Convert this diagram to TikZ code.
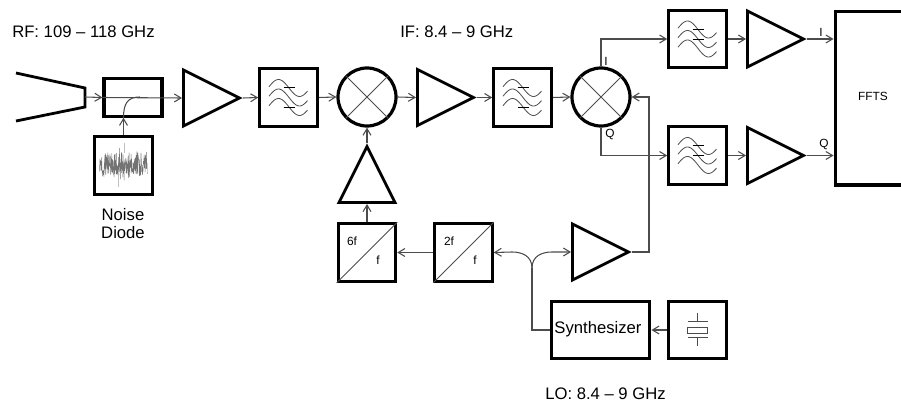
\documentclass[tikz,border=0pt]{standalone}
\usepackage{fontspec}
\setmainfont{Liberation Sans}
\usetikzlibrary{arrows.meta,shapes.geometric}
\newcommand{\linecol}{black!70}
\tikzset{
  blockbox/.style={draw=black, line width=2.4pt, rectangle, inner sep=0pt, minimum width=43pt, minimum height=43pt},
  amp/.style={draw=black, line width=2.1pt, isosceles triangle, isosceles triangle stretches, inner sep=0pt, minimum width=42pt, minimum height=42pt, anchor=lower side},
  mixer/.style={draw=black, line width=2.4pt, circle, inner sep=0pt, minimum size=43.5pt},
  lbl/.style={inner sep=0pt, font=\fontsize{12.5}{13}\selectfont},
  smalllbl/.style={inner sep=0pt, font=\fontsize{8.9}{10}\selectfont},
  conn/.style={draw=\linecol, line width=0.8pt, -{Straight Barb[length=5pt,width=6pt]}},
  wire/.style={draw=\linecol, line width=0.8pt},
  thin line/.style={draw=\linecol, line width=0.6pt}
}
% the three waves and two bars of a band pass filter
\newcommand{\filtericon}[2]{
  \begin{scope}[shift={(#1)}]
    \foreach \yoff in {-9.5, 0, 9.5}
      \draw[thin line, domain=-19.5:19, samples=30, smooth] plot (\x, {\yoff + 8.5*sin((\x-0.5)*360/42)});
    \draw[thin line, draw=black] (-5, -10) -- (6, -10);
    \draw[thin line, draw=black] (-5, #2) -- (6, #2);
  \end{scope}
}
\newcommand{\mixercross}[1]{
  \draw[thin line] (#1.45) -- (#1.225);
  \draw[thin line] (#1.135) -- (#1.315);
}
\begin{document}
\begin{tikzpicture}[x=0.75pt, y=-0.75pt]
  \useasboundingbox (0, 0) rectangle (901, 403);

  \node[lbl, anchor=west] (rf) at (12, 32) {RF: 109 -- 118 GHz};
  \node[lbl, anchor=west] (if) at (400, 32) {IF: 8.4 -- 9 GHz};
  \node[lbl, anchor=west] (lo) at (545, 394) {LO: 8.4 -- 9 GHz};

  % top row
  \coordinate (hornout) at (85, 97);
  \draw[draw=black, line width=2.1pt, miter limit=2] (16, 73) -- (85, 88) -- (85, 107) -- (16, 121);
  \node[draw=black, line width=2.4pt, rectangle, inner sep=0pt, minimum width=43.5pt, minimum height=28pt] (coupler) at (133, 97.5) {};
  \node[amp] (amp1) at (182, 98) {};
  \node[blockbox] (filt1) at (288.5, 97.5) {};
  \node[mixer] (mix1) at (367, 97) {};
  \node[amp] (amp2) at (416, 97.5) {};
  \node[blockbox] (filt2) at (522.5, 97.5) {};
  \node[mixer] (mix2) at (601, 97) {};

  % right hand side
  \node[blockbox] (filt3) at (697.5, 39) {};
  \node[blockbox] (filt4) at (697.5, 155.5) {};
  \node[amp] (amp3) at (746, 39) {};
  \node[amp] (amp4) at (746, 155.5) {};
  \node[draw=black, line width=2.4pt, rectangle, inner sep=0pt, minimum width=57pt, minimum height=130pt, anchor=north west] (ffts) at (833.5, 10) {};
  \node[smalllbl] (fftslbl) at (873, 96) {FFTS};

  % noise source
  \node[blockbox] (noise) at (123.5, 165.5) {};
  \node[lbl, align=center] (noiselbl) at (123, 223.5) {Noise\\Diode};

  % LO chain
  \node[amp, shape border rotate=90] (amp5) at (367, 204) {};
  \node[blockbox] (mult6) at (367, 252.5) {};
  \node[blockbox] (mult2) at (463.5, 252.5) {};
  \node[amp] (amp6) at (571, 252) {};
  \node[blockbox, minimum width=74pt] (synth) at (600.5, 330) {};
  \node[blockbox] (xtal) at (697.5, 330) {};
  \node[lbl] (synthlbl) at (598, 329) {Synthesizer};

  \draw[thin line] (mult6.south west) -- (mult6.north east);
  \draw[thin line] (mult2.south west) -- (mult2.north east);
  \node[smalllbl] (six) at (352, 241) {6f};
  \node[smalllbl] (sixb) at (378, 260) {f};
  \node[smalllbl] (two) at (449, 241) {2f};
  \node[smalllbl] (twob) at (475, 260) {f};

  \mixercross{mix1}
  \mixercross{mix2}

  \filtericon{filt1}{10}
  \filtericon{filt2}{9.5}
  \filtericon{filt3}{0}
  \filtericon{filt4}{0}

  % noise trace
  \pgfmathsetseed{41}
  \begin{scope}[shift={(noise)}]
    \draw[draw=black!55, line width=0.3pt] plot[domain=-24:24, samples=220] (\x, {-1 + (9 + 11*rnd*rnd)*(2*rnd-1)});
    \draw[draw=black!25, line width=0.4pt] (1, -22) -- (1, -12);
    \draw[draw=black!25, line width=0.4pt] (-5, 8) -- (-5, 22);
  \end{scope}

  % crystal
  \begin{scope}[shift={(xtal)}]
    \draw[thin line] (0, -17) -- (0, -8.5);
    \draw[thin line] (-10, -8.5) -- (10, -8.5);
    \draw[thin line] (-10, -3) rectangle (10, 3);
    \draw[thin line] (-10, 7) -- (10, 7);
    \draw[thin line] (0, 7) -- (0, 16);
  \end{scope}

  % connectors
  \draw[conn] (hornout) -- (coupler.west);
  \draw[conn] (coupler.west) -- (amp1.lower side);
  \draw[conn] (amp1.apex) -- (filt1.west);
  \draw[conn] (filt1.east) -- (mix1.west);
  \draw[conn] (mix1.east) -- (amp2.lower side);
  \draw[conn] (amp2.apex) -- (filt2.west);
  \draw[conn] (filt2.east) -- (mix2.west);

  \draw[conn] (noise.north) -- (noise.north |- coupler.south);
  \draw[wire] (noise.north |- coupler.south) .. controls (123.5, 103) and (128, 97) .. (140, 97);

  \draw[conn] (amp5.apex |- mult6.north) -- (amp5.lower side);
  \draw[conn] (amp5.apex) -- (mix1.south);
  \draw[conn] (mult2.west) -- (mult6.east);
  \draw[conn] (xtal.west) -- (synth.east);

  \coordinate (split) at (532, 268);
  \draw[wire] (synth.west) -| (split);
  \draw[conn] (split) .. controls (532, 256) and (522, 252) .. (512, 252) -- (mult2.east);
  \draw[conn] (split) .. controls (532, 256) and (542, 252) .. (552, 252) -- (amp6.lower side);

  \draw[conn] (amp6.apex) -- (649, 252) |- (mix2.east);
  \draw[conn] (mix2.north) |- (filt3.west);
  \draw[conn] (mix2.south) |- (filt4.west);
  \draw[conn] (filt3.east) -- (amp3.lower side);
  \draw[conn] (filt4.east) -- (amp4.lower side);
  \draw[conn] (amp3.apex) -- (amp3.apex -| ffts.west);
  \draw[conn] (amp4.apex) -- (amp4.apex -| ffts.west);

  \node[smalllbl] (ilbl) at (606, 61) {I};
  \node[smalllbl] (qlbl) at (610, 134) {Q};
  \node[smalllbl] (ilblb) at (821, 32) {I};
  \node[smalllbl] (qlblb) at (824, 144) {Q};
\end{tikzpicture}
\end{document}
